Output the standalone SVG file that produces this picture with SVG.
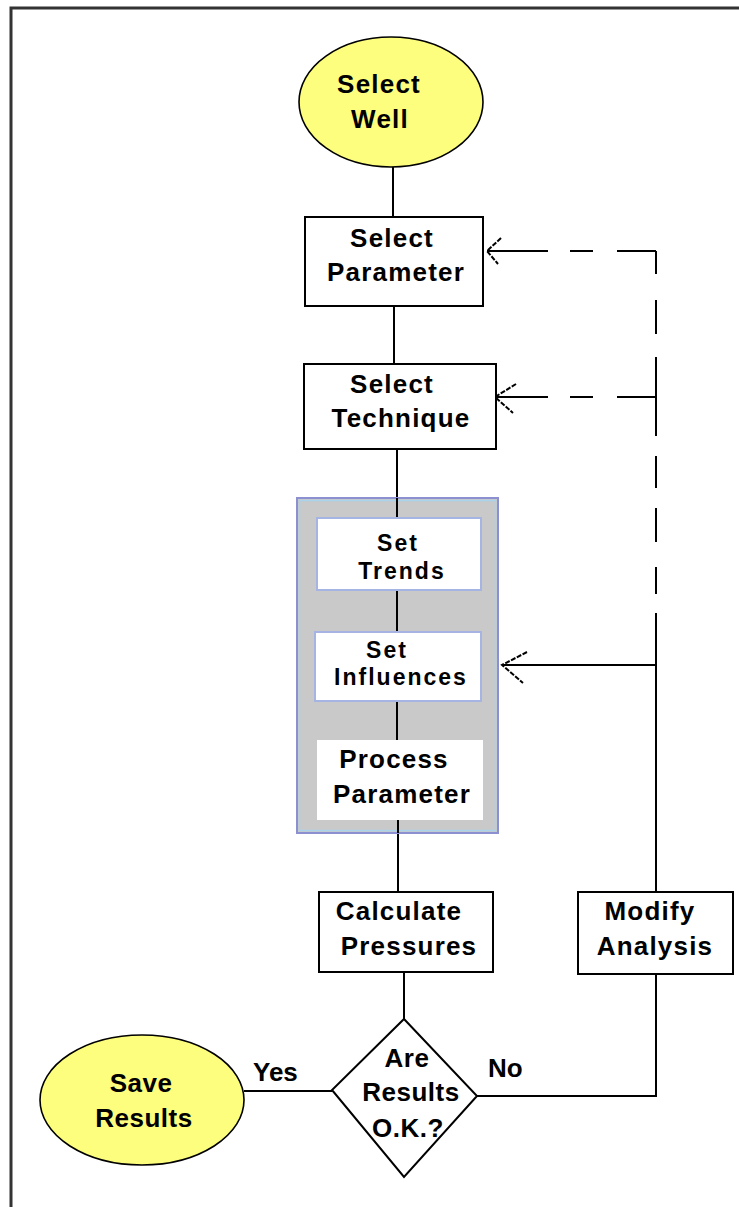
<svg xmlns="http://www.w3.org/2000/svg" width="739" height="1207" viewBox="0 0 739 1207">
  <defs>
    <style>
      .frame { fill: none; stroke: #333; stroke-width: 3; }
      .term { fill: #fdfd7e; stroke: #000; stroke-width: 1.6; }
      .box { fill: #fff; stroke: #000; stroke-width: 2; }
      .group { fill: #c9c9c9; stroke: #8c8fd0; stroke-width: 2; }
      .group-inner { fill: none; stroke: #a9d3ea; stroke-width: 1.5; }
      .sub { fill: #fff; stroke: #a6b4e4; stroke-width: 2; }
      .line { fill: none; stroke: #000; stroke-width: 2; }
      .dash { fill: none; stroke: #000; stroke-width: 2; }
      .head { fill: none; stroke: #000; stroke-width: 2; stroke-dasharray: 5 1.5; }
      .lbl { font-family: "Liberation Sans", Arial, sans-serif; font-weight: bold; font-size: 26px; letter-spacing: 1.2px; fill: #000; text-anchor: middle; }
      .lbl-s { font-family: "Liberation Sans", Arial, sans-serif; font-weight: bold; font-size: 23px; letter-spacing: 2px; fill: #000; text-anchor: middle; }
      .lbl2 { font-family: "Liberation Sans", Arial, sans-serif; font-weight: bold; font-size: 26px; letter-spacing: 0.5px; fill: #000; text-anchor: middle; }
      .edge { font-family: "Liberation Sans", Arial, sans-serif; font-weight: bold; font-size: 26px; fill: #000; }
    </style>
  </defs>

  <rect width="739" height="1207" fill="#fff"/>
  <rect class="frame" x="11" y="8" width="760" height="1230"/>

  <!-- connectors -->
  <g id="connectors">
    <line class="line" x1="393" y1="167" x2="393" y2="217"/>
    <line class="line" x1="394" y1="306" x2="394" y2="364"/>
    <line class="line" x1="397" y1="449" x2="397" y2="518"/>
    <line class="line" x1="397" y1="590" x2="397" y2="632"/>
    <line class="line" x1="397" y1="701" x2="397" y2="740"/>
    <line class="line" x1="398" y1="820" x2="398" y2="892"/>
    <line class="line" x1="404" y1="972" x2="404" y2="1019"/>
    <!-- Yes branch -->
    <line class="line" x1="244" y1="1091" x2="332" y2="1091"/>
    <!-- No branch back to Modify Analysis -->
    <polyline class="line" points="477,1096 656,1096 656,974"/>
    <!-- Modify Analysis up to the feedback trunk -->
    <line class="line" x1="656" y1="892" x2="656" y2="613"/>
    <line class="line" x1="656" y1="665" x2="502" y2="665"/>
    <!-- dashed trunk -->
    <path class="dash" d="M656 251 V274 M656 300 V334 M656 357 V436 M656 456 V488 M656 508 V542 M656 567 V594"/>
    <!-- dashed returns -->
    <path class="dash" d="M656 251 H617 M593 251 H570 M548 251 H487"/>
    <path class="dash" d="M656 397 H617 M593 397 H570 M548 397 H495"/>
    <!-- open arrowheads -->
    <polyline class="head" points="501,238 487,251 498,264"/>
    <polyline class="head" points="516,384 495,397 513,413"/>
    <polyline class="head" points="527,652 502,665 523,683"/>
  </g>

  <g id="select-well">
    <ellipse class="term" cx="391" cy="102" rx="92" ry="65"/>
    <text class="lbl" x="379" y="93">Select</text>
    <text class="lbl" x="380" y="128">Well</text>
  </g>

  <g id="select-parameter">
    <rect class="box" x="305" y="217" width="178" height="89"/>
    <text class="lbl" x="392" y="247">Select</text>
    <text class="lbl" x="396" y="281">Parameter</text>
  </g>

  <g id="select-technique">
    <rect class="box" x="304" y="364" width="192" height="85"/>
    <text class="lbl" x="392" y="393">Select</text>
    <text class="lbl" x="401" y="427">Technique</text>
  </g>

  <g id="analysis-group">
    <rect class="group" x="297" y="498" width="201" height="335"/>
    <rect class="group-inner" x="299.5" y="500.5" width="196" height="330"/>
    <line class="line" x1="397" y1="498" x2="397" y2="518" stroke="#444"/>
    <line class="line" x1="397" y1="590" x2="397" y2="632" stroke="#555577"/>
    <line class="line" x1="397" y1="701" x2="397" y2="740" stroke="#555577"/>
    <line class="line" x1="398" y1="820" x2="398" y2="833" stroke="#444"/>
  </g>

  <g id="set-trends">
    <rect class="sub" x="317" y="518" width="164" height="72"/>
    <text class="lbl-s" x="398" y="551">Set</text>
    <text class="lbl-s" x="402" y="579">Trends</text>
  </g>

  <g id="set-influences">
    <rect class="sub" x="315" y="632" width="166" height="69"/>
    <text class="lbl-s" x="387" y="658">Set</text>
    <text class="lbl-s" x="401" y="685">Influences</text>
  </g>

  <g id="process-parameter">
    <rect x="317" y="740" width="166" height="80" fill="#fff"/>
    <text class="lbl" x="394" y="768">Process</text>
    <text class="lbl" x="402" y="803">Parameter</text>
  </g>

  <g id="calculate-pressures">
    <rect class="box" x="319" y="892" width="174" height="80"/>
    <text class="lbl" x="399" y="920">Calculate</text>
    <text class="lbl" x="409" y="955">Pressures</text>
  </g>

  <g id="modify-analysis">
    <rect class="box" x="578" y="892" width="155" height="82"/>
    <text class="lbl" x="650" y="920">Modify</text>
    <text class="lbl" x="655" y="955">Analysis</text>
  </g>

  <g id="results-ok">
    <polygon class="box" stroke-width="1.6" points="404,1019 477,1096 404,1177 332,1090"/>
    <text class="lbl2" x="407" y="1067">Are</text>
    <text class="lbl2" x="411" y="1101">Results</text>
    <text class="lbl2" x="408" y="1137">O.K.?</text>
  </g>

  <g id="save-results">
    <ellipse class="term" cx="142" cy="1100" rx="102" ry="65"/>
    <text class="lbl2" x="141" y="1092">Save</text>
    <text class="lbl2" x="144" y="1127">Results</text>
  </g>

  <g id="edge-labels">
    <text class="edge" x="253" y="1081">Yes</text>
    <text class="edge" x="488" y="1077">No</text>
  </g>
</svg>
